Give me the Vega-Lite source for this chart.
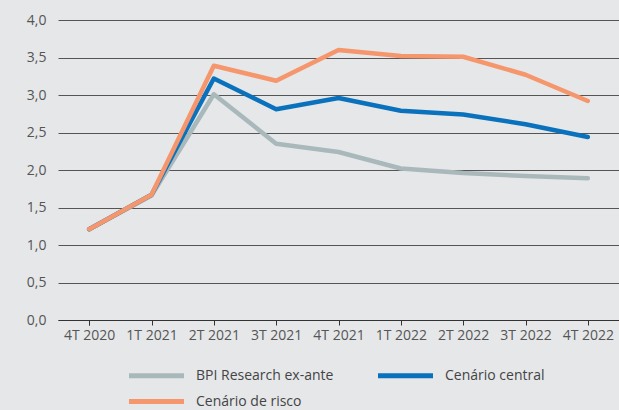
{
  "$schema": "https://vega.github.io/schema/vega-lite/v6.json",
  "width": 561,
  "height": 300,
  "autosize": {"type": "none"},
  "padding": {"left": 58, "top": 20, "right": 0, "bottom": 90},
  "background": "#e6e7e9",
  "config": {
    "view": {"stroke": null},
    "font": "Open Sans",
    "axis": {"labelFont": "Open Sans", "labelFontSize": 14, "labelColor": "#555555"},
    "legend": {"labelFont": "Open Sans", "labelFontSize": 14, "labelColor": "#444444"}
  },
  "data": {
    "values": [
      {"q": "4T 2020", "s": "BPI Research ex-ante", "v": 1.21},
      {"q": "1T 2021", "s": "BPI Research ex-ante", "v": 1.66},
      {"q": "2T 2021", "s": "BPI Research ex-ante", "v": 3.01},
      {"q": "3T 2021", "s": "BPI Research ex-ante", "v": 2.35},
      {"q": "4T 2021", "s": "BPI Research ex-ante", "v": 2.24},
      {"q": "1T 2022", "s": "BPI Research ex-ante", "v": 2.02},
      {"q": "2T 2022", "s": "BPI Research ex-ante", "v": 1.96},
      {"q": "3T 2022", "s": "BPI Research ex-ante", "v": 1.92},
      {"q": "4T 2022", "s": "BPI Research ex-ante", "v": 1.89},
      {"q": "4T 2020", "s": "Cenário central", "v": 1.21},
      {"q": "1T 2021", "s": "Cenário central", "v": 1.67},
      {"q": "2T 2021", "s": "Cenário central", "v": 3.22},
      {"q": "3T 2021", "s": "Cenário central", "v": 2.81},
      {"q": "4T 2021", "s": "Cenário central", "v": 2.96},
      {"q": "1T 2022", "s": "Cenário central", "v": 2.79},
      {"q": "2T 2022", "s": "Cenário central", "v": 2.74},
      {"q": "3T 2022", "s": "Cenário central", "v": 2.61},
      {"q": "4T 2022", "s": "Cenário central", "v": 2.44},
      {"q": "4T 2020", "s": "Cenário de risco", "v": 1.21},
      {"q": "1T 2021", "s": "Cenário de risco", "v": 1.67},
      {"q": "2T 2021", "s": "Cenário de risco", "v": 3.39},
      {"q": "3T 2021", "s": "Cenário de risco", "v": 3.19},
      {"q": "4T 2021", "s": "Cenário de risco", "v": 3.6},
      {"q": "1T 2022", "s": "Cenário de risco", "v": 3.52},
      {"q": "2T 2022", "s": "Cenário de risco", "v": 3.51},
      {"q": "3T 2022", "s": "Cenário de risco", "v": 3.27},
      {"q": "4T 2022", "s": "Cenário de risco", "v": 2.92}
    ]
  },
  "mark": {"type": "line", "strokeWidth": 4.5, "strokeCap": "round", "strokeJoin": "round"},
  "encoding": {
    "x": {
      "field": "q", "type": "ordinal", "sort": null, "title": null,
      "scale": {"type": "point", "padding": 0.5},
      "axis": {"labelAngle": 0, "domainColor": "#333333", "domainWidth": 1.2, "tickColor": "#333333", "tickSize": 5, "bandPosition": 0, "tickBand": "extent", "labelPadding": 3, "grid": false}
    },
    "y": {
      "field": "v", "type": "quantitative", "title": null,
      "scale": {"domain": [0, 4], "nice": false},
      "axis": {"values": [0, 0.5, 1, 1.5, 2, 2.5, 3, 3.5, 4], "domain": false, "ticks": false, "labelPadding": 12,
               "gridColor": "#555555", "gridWidth": 1,
               "labelExpr": "replace(format(datum.value, '.1f'), '.', ',')"}
    },
    "color": {
      "field": "s", "type": "nominal", "title": null,
      "scale": {"domain": ["BPI Research ex-ante", "Cenário central", "Cenário de risco"], "range": ["#a9b8bb", "#0a72bd", "#f5966c"]},
      "legend": {"orient": "none", "legendX": 86, "legendY": 343, "direction": "horizontal", "columns": 2,
                 "symbolType": "M-2.75,0L2.75,0", "symbolSize": 400, "symbolStrokeWidth": 5, "labelOffset": 27,
                 "columnPadding": 34, "rowPadding": 3, "labelLimit": 300}
    }
  }
}
